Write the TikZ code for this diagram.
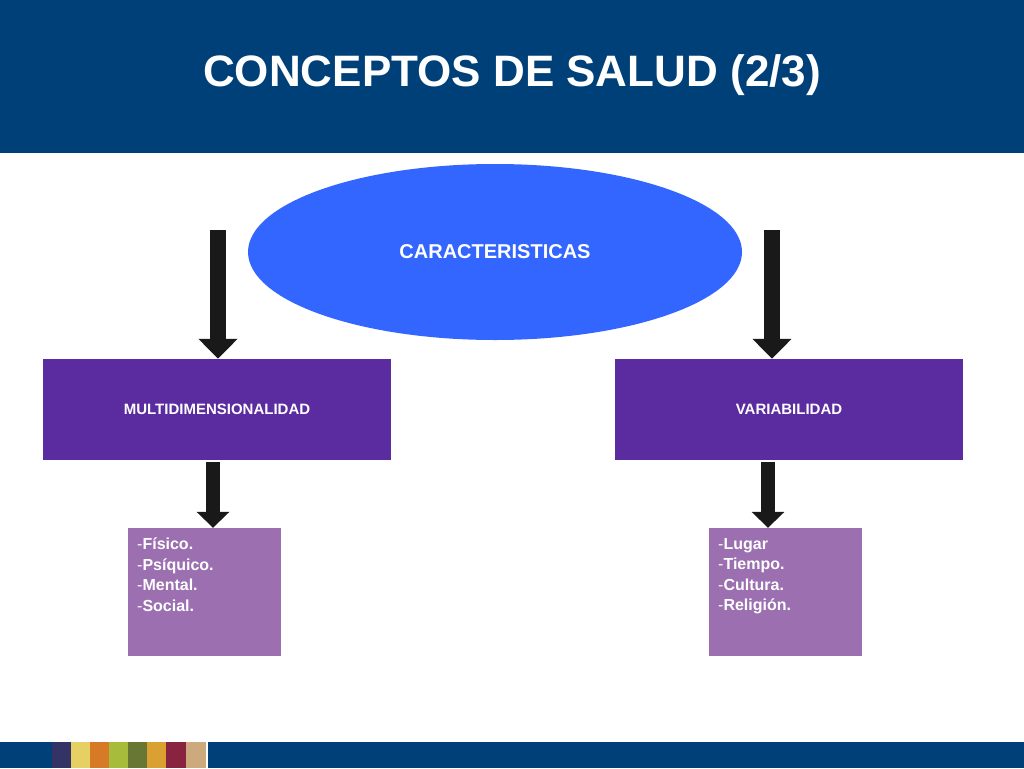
\documentclass[tikz,border=0pt]{standalone}
\usepackage{fontspec}
\setmainfont{Liberation Sans}
\usetikzlibrary{shapes.geometric,arrows.meta}
\definecolor{hdr}{HTML}{004079}
\definecolor{ell}{HTML}{3366FF}
\definecolor{pur}{HTML}{5B2CA0}
\definecolor{lil}{HTML}{9B6FB0}
\definecolor{cA}{RGB}{51,51,102}
\definecolor{cB}{RGB}{230,208,100}
\definecolor{cC}{RGB}{214,122,40}
\definecolor{cD}{RGB}{168,188,60}
\definecolor{cE}{RGB}{104,120,52}
\definecolor{cF}{RGB}{218,160,50}
\definecolor{cG}{RGB}{136,36,64}
\definecolor{cH}{RGB}{204,170,126}
\tikzset{
  blk/.style={draw=none,fill=pur,minimum width=348pt,minimum height=101pt,text=white,font=\bfseries\fontsize{15}{18}\selectfont},
  lbox/.style={fill=lil,minimum width=153pt,minimum height=128pt,inner sep=0pt},
  ltxt/.style={text=white,align=left,anchor=north west,inner sep=0pt,font=\bfseries\fontsize{16}{20.5}\selectfont},
  barrow/.style={line width=16pt,-{Triangle[width=38pt,length=20pt]},draw=black!90},
  sarrow/.style={line width=14pt,-{Triangle[width=32pt,length=16pt]},draw=black!90}
}
\begin{document}
\begin{tikzpicture}[x=1pt,y=-1pt]
\useasboundingbox (0,0) rectangle (1024,768);
\fill[white] (0,0) rectangle (1024,768);
\fill[hdr] (0,0) rectangle (1024,153);
\node[text=white,font=\bfseries\fontsize{44}{50}\selectfont] (title) at (512,75) {CONCEPTOS DE SALUD (2/3)};
\node[ellipse,fill=ell,minimum width=494pt,minimum height=176pt,text=white,font=\bfseries\fontsize{20}{24}\selectfont] (car) at (495,252) {CARACTERISTICAS};
\node[blk] (mul) at (217,409.5) {MULTIDIMENSIONALIDAD};
\node[blk] (var) at (789,409.5) {VARIABILIDAD};
\node[lbox] (l1) at (204.5,592) {};
\node[lbox] (l2) at (785,592) {};
\node[ltxt] (t1) at (137,538) {{\mdseries-}Físico.\\{\mdseries-}Psíquico.\\{\mdseries-}Mental.\\{\mdseries-}Social.};
\node[ltxt] (t2) at (718,538) {{\mdseries-}Lugar\\{\mdseries-}Tiempo.\\{\mdseries-}Cultura.\\{\mdseries-}Religión.};
\coordinate (a1) at (218,230); \coordinate (a2) at (772,230);
\coordinate (b1) at (213,462); \coordinate (b2) at (768,462);
\draw[barrow] (a1) -- (mul.north -| a1);
\draw[barrow] (a2) -- (var.north -| a2);
\draw[sarrow] (b1) -- (l1.north -| b1);
\draw[sarrow] (b2) -- (l2.north -| b2);
\fill[hdr] (0,742) rectangle (52,768);
\fill[cA] (52,742) rectangle (71,768);
\fill[cB] (71,742) rectangle (90,768);
\fill[cC] (90,742) rectangle (109,768);
\fill[cD] (109,742) rectangle (128,768);
\fill[cE] (128,742) rectangle (147,768);
\fill[cF] (147,742) rectangle (166,768);
\fill[cG] (166,742) rectangle (186,768);
\fill[cH] (186,742) rectangle (206,768);
\fill[hdr] (208,742) rectangle (1024,768);
\end{tikzpicture}
\end{document}
